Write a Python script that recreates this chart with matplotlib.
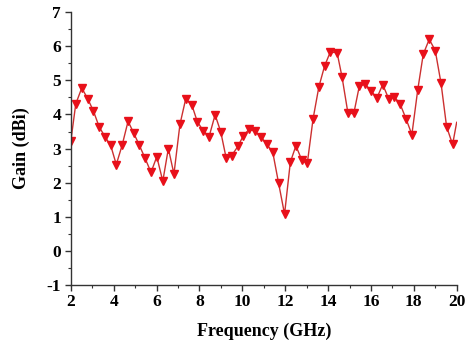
import matplotlib
matplotlib.use("Agg")
import matplotlib.pyplot as plt
from matplotlib.ticker import MultipleLocator

# Gain vs frequency
freq_ghz = [2.00, 2.23, 2.51, 2.79, 3.05, 3.32, 3.60, 3.86, 4.12, 4.39,
            4.67, 4.93, 5.20, 5.46, 5.74, 6.01, 6.29, 6.55, 6.81, 7.09,
            7.36, 7.64, 7.90, 8.18, 8.45, 8.73, 8.99, 9.25, 9.50, 9.79,
            10.05, 10.31, 10.58, 10.87, 11.14, 11.42, 11.69, 11.97, 12.24, 12.50,
            12.77, 13.03, 13.30, 13.57, 13.84, 14.10, 14.42, 14.65, 14.93, 15.20,
            15.46, 15.74, 16.02, 16.28, 16.55, 16.83, 17.09, 17.36, 17.64, 17.91,
            18.18, 18.44, 18.72, 19.00, 19.27, 19.53, 19.81, 20.00]
gain_dbi = [3.22, 4.31, 4.78, 4.46, 4.11, 3.64, 3.34, 3.09, 2.53, 3.09,
            3.80, 3.46, 3.09, 2.72, 2.30, 2.76, 2.04, 3.00, 2.25, 3.71,
            4.46, 4.29, 3.79, 3.52, 3.35, 3.99, 3.50, 2.71, 2.79, 3.06,
            3.38, 3.56, 3.51, 3.34, 3.13, 2.89, 1.99, 1.07, 2.60, 3.08,
            2.67, 2.56, 3.87, 4.81, 5.43, 5.83, 5.82, 5.11, 4.03, 4.03,
            4.84, 4.89, 4.68, 4.49, 4.88, 4.46, 4.52, 4.31, 3.87, 3.41,
            4.71, 5.77, 6.21, 5.88, 4.92, 3.64, 3.12, 3.77]

plt.rcParams['font.family'] = ['Liberation Serif', 'DejaVu Serif']
plt.rcParams['font.weight'] = 'bold'
plt.rcParams['axes.unicode_minus'] = False

fig = plt.figure(figsize=(4.66, 3.45), dpi=100)
ax = fig.add_axes([0.152, 0.175, 0.828, 0.789])

# last sample sits on the axis edge, drawn without a marker
ax.plot(freq_ghz, gain_dbi, color='#cc3030', linewidth=1.0, marker='v',
        markersize=5.5, markerfacecolor='#e8101a', markeredgecolor='#e8101a',
        markevery=slice(0, len(freq_ghz) - 1))

ax.set_xlim(2, 20)
ax.set_ylim(-1, 7)
ax.xaxis.set_major_locator(MultipleLocator(2))
ax.xaxis.set_minor_locator(MultipleLocator(1))
ax.yaxis.set_major_locator(MultipleLocator(1))
ax.yaxis.set_minor_locator(MultipleLocator(0.5))

for side in ['top', 'right']:
    ax.spines[side].set_visible(False)
for side in ['left', 'bottom']:
    ax.spines[side].set_linewidth(1.0)
    ax.spines[side].set_color('#333333')

ax.tick_params(which='major', direction='out', length=4, width=1.0,
               colors='#333333', labelsize=12.5, labelcolor='black', pad=3)
ax.tick_params(which='minor', direction='out', length=2.5, width=0.8,
               colors='#333333')
for lab in ax.get_xticklabels() + ax.get_yticklabels():
    lab.set_fontweight('bold')

ax.set_xlabel('Frequency (GHz)', fontsize=13, fontweight='bold', labelpad=9)
ax.set_ylabel('Gain (dBi)', fontsize=13, fontweight='bold', labelpad=12)

fig.savefig('out.png', dpi=100)
